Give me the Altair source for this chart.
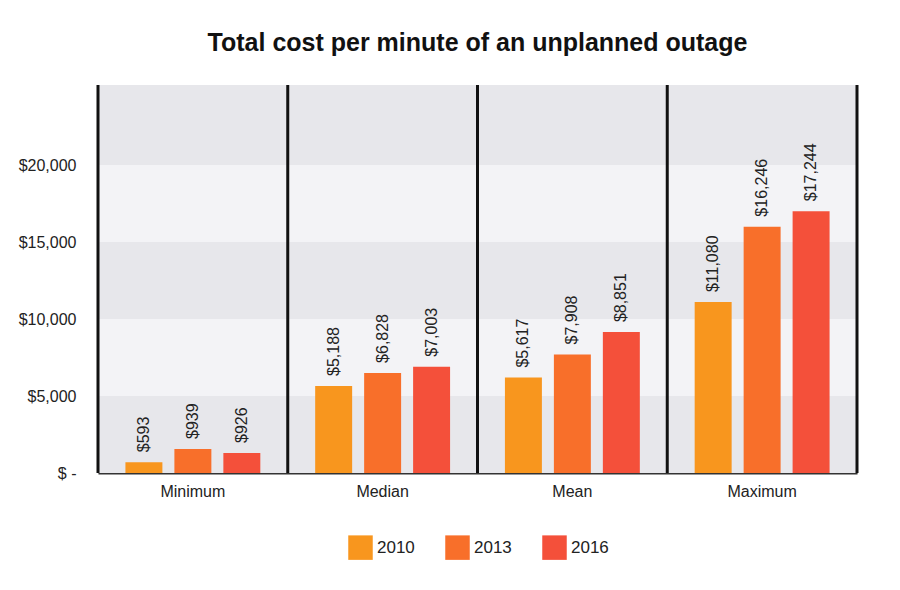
import pandas as pd
import altair as alt

categories = ["Minimum", "Median", "Mean", "Maximum"]
years = ["2010", "2013", "2016"]
# bar heights as drawn in the picture
bar_values = {
    "2010": [700, 5650, 6200, 11100],
    "2013": [1560, 6500, 7700, 16000],
    "2016": [1300, 6900, 9150, 17000],
}
# labels printed above the bars
bar_labels = {
    "2010": ["$593", "$5,188", "$5,617", "$11,080"],
    "2013": ["$939", "$6,828", "$7,908", "$16,246"],
    "2016": ["$926", "$7,003", "$8,851", "$17,244"],
}
colors = ["#F8961E", "#F86F2A", "#F4503A"]
band_lo = [0, 10000, 20000]
band_hi = [5000, 15000, 25200]

rows = []
for y in years:
    for i, c in enumerate(categories):
        rows.append({"cat": c, "year": y, "value": bar_values[y][i], "label": bar_labels[y][i]})
df = pd.DataFrame(rows)

W, H = 759, 388
yscale = alt.Scale(domain=[0, 25200], nice=False)
xenc = alt.X("cat:N", sort=categories, title=None,
             scale=alt.Scale(paddingInner=0, paddingOuter=0),
             axis=alt.Axis(labelAngle=0, ticks=False, labelFontSize=16, labelColor="#222",
                           labelPadding=10, domainColor="#333", domainWidth=2,
                           labelFont="Liberation Sans"))
xoff = alt.XOffset("year:N", scale=alt.Scale(paddingInner=0.245, paddingOuter=0.56))

bg_base = alt.Chart(pd.DataFrame({"y": [0], "y2": [25200]})).mark_rect(color="#F3F3F6").encode(
    y=alt.Y("y:Q", scale=yscale), y2="y2:Q")
bands = alt.Chart(pd.DataFrame({"y": band_lo, "y2": band_hi})).mark_rect(color="#E7E7EB").encode(
    y=alt.Y("y:Q", scale=yscale), y2="y2:Q")

bars = alt.Chart(df).mark_bar().encode(
    x=xenc, xOffset=xoff,
    y=alt.Y("value:Q", scale=yscale, title=None,
            axis=alt.Axis(values=[0, 5000, 10000, 15000, 20000], grid=False, ticks=False,
                          domain=False, labelFontSize=16, labelColor="#222", labelPadding=22,
                          labelFont="Liberation Sans",
                          labelExpr="datum.value == 0 ? '$ -' : '$' + format(datum.value, ',')")),
    color=alt.Color("year:N", scale=alt.Scale(domain=years, range=colors),
                    legend=alt.Legend(orient="none", legendX=250, legendY=450, direction="horizontal",
                                      title=None, symbolType="square",
                                      symbolSize=600, symbolStrokeWidth=0, labelFontSize=17,
                                      labelColor="#222", columnPadding=30,
                                      labelFont="Liberation Sans")),
)

text = alt.Chart(df).mark_text(angle=270, align="left", baseline="middle", dx=10,
                               fontSize=16, color="#222", font="Liberation Sans").encode(
    x=alt.X("cat:N", sort=categories), xOffset=xoff, y=alt.Y("value:Q", scale=yscale), text="label:N")

seps = alt.Chart(pd.DataFrame({"cat": categories})).mark_rule(color="#111", strokeWidth=3).encode(
    x=alt.X("cat:N", sort=categories, bandPosition=0))
right = alt.Chart(pd.DataFrame({"a": [0]})).mark_rule(color="#111", strokeWidth=3).encode(
    x=alt.value(W), y=alt.value(0), y2=alt.value(H))

chart = alt.layer(bg_base, bands, bars, text, seps, right).properties(
    width=W, height=H,
    padding={"top": 22, "left": 10, "right": 5, "bottom": 5},
    title=alt.Title("Total cost per minute of an unplanned outage", fontSize=25, fontWeight="bold",
                    font="Liberation Sans", color="#111", offset=28),
).configure_view(stroke=None).configure(background="white")

chart.save("out.html", embed_options={"renderer": "svg", "actions": False})
